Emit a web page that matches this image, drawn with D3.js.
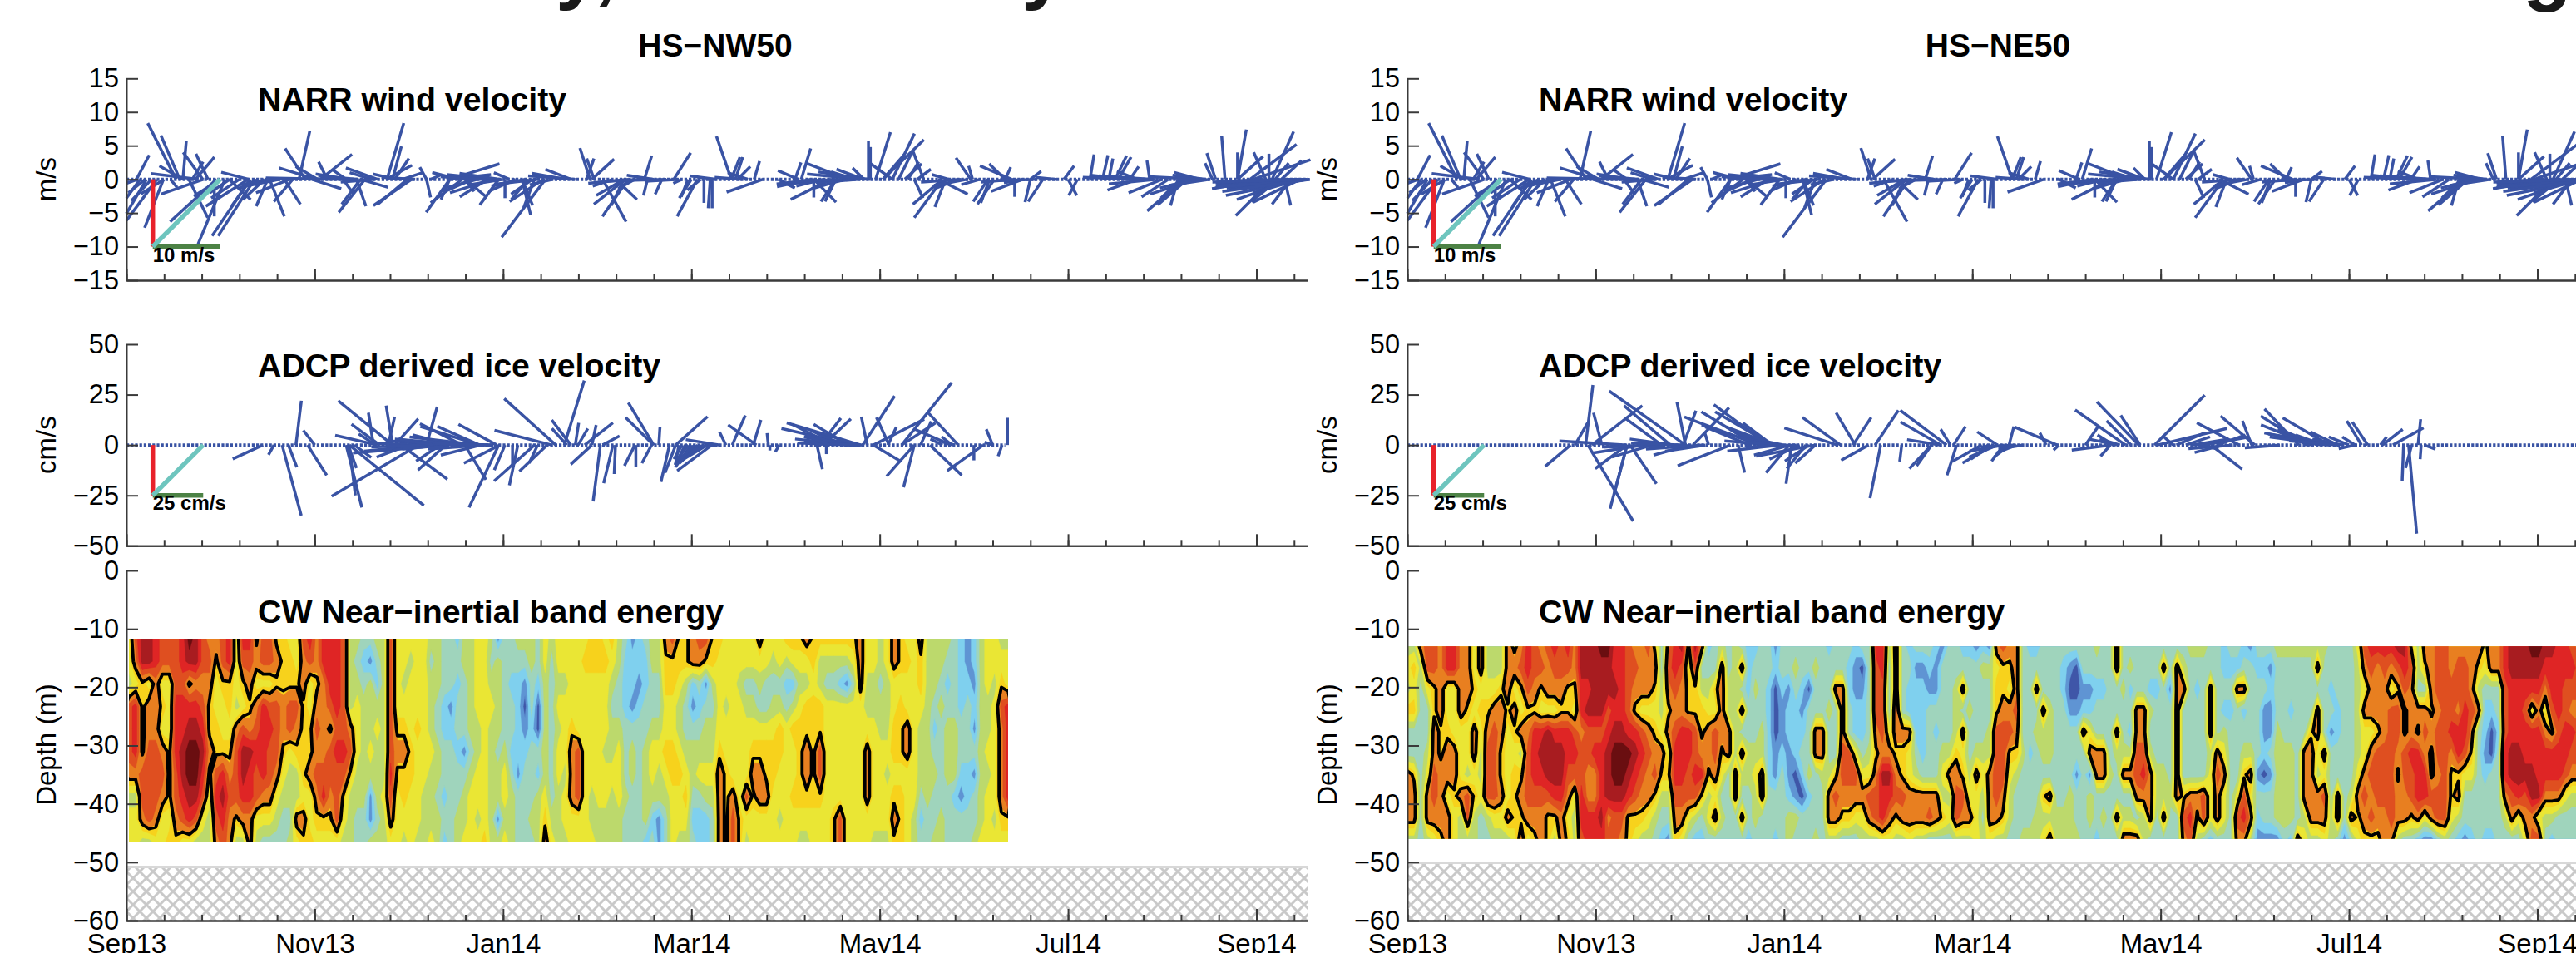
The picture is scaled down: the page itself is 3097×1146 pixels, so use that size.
<!DOCTYPE html>
<html><head><meta charset="utf-8">
<script src="https://cdn.jsdelivr.net/npm/d3@7/dist/d3.min.js"></script>
<style>html,body{margin:0;background:#fff;overflow:hidden}svg{display:block}text{font-family:"Liberation Sans",Arial,sans-serif;fill:#000}</style>
</head><body><svg id="c" width="3097" height="1146"></svg>
<script>
// ---------- labels ----------
const siteTitles=["HS\u2212NW50","HS\u2212NE50"];
const panelTitles=["NARR wind velocity","ADCP derived ice velocity","CW Near\u2212inertial band energy"];
const yLabels=["m/s","cm/s","Depth (m)"];
const windTicks=[15,10,5,0,-5,-10,-15];
const iceTicks=[50,25,0,-25,-50];
const depthTicks=[0,-10,-20,-30,-40,-50,-60];
const dateLabels=["Sep13","Nov13","Jan14","Mar14","May14","Jul14","Sep14"];
const headlineFragments=["y,","y","g"];
const lastDay=376.3;
const seabedDepth=[-50.8,-50.1];
const nwEnergyDays=[0.8,280.9], neEnergyDays=[0,373.2];
const nwEnergyDepth=[-11.7,-46.5], neEnergyDepth=[-13,-46];
const iceZeroEnd=[280,376];
const windRef=10, iceRef=25, refDay=8.4;

// ---------- sticks: [day since 1 Sep 2013, u, v] ----------
const windSticks=[[3.2,1.9,3.6],[15.8,-4.2,8.35],[17,-2.8,6.5],[18,.5,5.7],[24.3,-2.9,4],[26,-1.8,3.8],[22,2.8,3.3],[21,1.6,2.6],[18,-3.5,2],[23,-7.1,.85],[39,-4.1,1.05],
[4.3,-2,-2.8],[9.7,-4.5,-6.1],[6.4,-3,-5.1],[3.6,-1.7,-.6],[11.8,-2.8,-7.2],[24.6,-6.3,-2.2],[19.9,2.8,-5.7],[28.7,-6.9,-6.3],[31.4,-4,-9.6],[39.5,-5.7,-8.4],[40.8,-5.4,-8.4],[28,0,-5.5],[38.8,-6.3,-4],[32.7,3.2,-3],[39.5,-2.8,-4],[45,-1.7,-4],[45.6,2.2,-5.5],[53,-2.8,-3.3],[50.3,2.4,-3.7],
[57,-3,4.6],[55,1.6,7.2],[60.4,-5.5,1.7],[61,-3.3,1.9],[64,-1.3,2.6],[61.8,4.7,3.7],[59,4.4,-1.4],[68,-11,.2],[80,-4.7,1.7],[76,-3.9,-4.9],[74.6,-2.8,-3.7],[69,1.6,-2.2],[73.3,1.4,-4],[74.6,4.1,-1.2],[90.9,-5.7,-3.9],[89.5,-4.4,-3.7],[83,2.5,8.35],[84.8,1.3,4.9],[85.5,2.1,3.1],[82.8,3.8,2.1],
[95.6,-1,1.8],[95.6,.6,-2.7],[97,1.6,.7],[103,-3.5,-4.9],[107,-4.7,-3.5],[103,-1.3,-3],[103,7.4,2.3],[102,6.6,.7],[117,-6.9,.7],[116.6,-6.3,-2],[115,-4.1,-2.6],[118.6,-2.8,-3.8],[108,1.3,-1.8],[108,3.2,-2.7],[120.6,0,-2.8],[133.5,-6.5,-8.6],[132.8,-5,-3.3],[129.4,-3.2,-2.2],[126,1.3,-5.3],[126,1.6,-3.9],[141.6,-3.8,1.5],[147.7,-1.5,4.65],[149,-1.1,3.1],[146.6,1.1,3.1],[148.3,3.3,3],[165,1.1,3.5],[159,-4.7,-3.7],[158.5,-4.1,-2.4],[151.7,3.5,-6.3],[159.8,-3.8,-5.5],[158.5,-1.9,-3.9],[155.8,3.2,-3],[166,-.6,-2.4],[170.6,-1,-2.2],
[174.4,2.5,3.95],[181.9,-3,-5.5],[186.6,0,-4.3],[186,-.3,-4.3],[184,0,-3.5],[178.9,-1,-2.6],[177,-1.3,-.6],[192.7,-2.2,6.4],[194,1.1,3.3],[192.7,1.3,3.3],[194.7,1.9,1.9],[202.8,-5.4,-1.9],[200,.8,2.7],[214,-3,1.3],[207.6,2.5,-1.3],[215,1.4,4.6],[213,.9,2.5],[230,-6.3,2.4],[235,-4.1,1.5],[232,-3.5,1.1],[224.5,-6,-3],[226,-6.3,-.6],[219,0,-2.7],[226,-2.2,-3.3],[219,3.3,-3.4],[226,-1.6,-3.3],[235,-1.7,1.7],[236.4,0,5.7],[237,0,4.8],[238.7,2.2,7],[244,3.3,6.8],[241,6.1,5.9],[241,3.2,3.7],[248,2.5,2.3],[254,-1.6,4.2],[244,-3.2,2.3],[251,1.3,-2.8],[260,-4.2,-5.7],[260,-4.4,-3.7],[261,-1.6,-4.1],[258.6,4.4,-2.2],[269,-2.2,3.2],[269.6,-.6,2],[282,-4.7,2],[280,-2.4,2.3],[280,.8,1.8],[276.5,-2.5,-3.7],[274.5,-2.2,-3.3],[275,-1.3,-3.5],[285.6,-4.7,-1.8],[283,0,-2.6],[288,-.8,-3.4],[292,-2.2,-3.3],[288,1.6,1.2],[303,-1.3,-2.4],[300,1.3,-2.4],[298.7,1.5,2],[307,.6,3.7],[311,.8,3.6],[313,.6,3.1],[315,1.7,3.5],[316,1.9,3.3],[319.7,1.3,1.9],[326,-.4,2.8],[322,-4.4,-1.6],[330,-5,-2],[337,-5.5,-4.7],[338,-4.4,-3.8],[335,-1.1,-3.9],[341,-6.9,-2.2],[342,-3.8,1],[347,-1.3,3.9],[346,-1.1,2.4],[350,-.5,6.5],[354,1.3,7.4],[354,0,4],[354,3.8,3.4],[363,-1.8,4],[364,0,3.8],[365,3.2,7.1],[358,6.9,5.2],[359,8.5,2.9],[376,-12,-2.4],[375,-11,-1.6],[376,-12,-.8],[365,-5.4,-5.4],[372,-8.5,-3],[371,-2.8,-3.7],[369,.9,-3.9],[375,-8.8,-1.8],[374,-7,-2],
[6,-2.5,-2],[8,-3,-3.2],[12,-3.5,-2.2],[14,1,-1.2],[30,-4,-2.5],[33,-3,-2],[36,-4.2,-2.8],[42,-3,-1.5],[44,-3.2,-3],[70,-2,1.4],[78,-3.2,1],[86,-3.5,.8],[88,3,1],[106,-4,1],[110,-3.5,-1.6],[112,-4.6,-1.2],[122,-2.3,1],[128,-2.5,-3],[130,-1.6,-4.2],[136,-3.5,-.8],[155,-3,-1],[162,-2.5,-1.4],[168,-4,.6],[180,-1.8,-2.8],[183,-2,-1.6],[188,-4,.5],[196,-4,.3],[198,-3,1],[222,-4,-1],[229,-5,-1.4],[233,-6,-.5],[246,2,4],[249,1.6,2.6],[252,2,1.5],[262,-2.5,.7],[265,-3.5,-1.4],[272,-2.8,-.8],[286,-3,-.5],[296,-3,.3],[318,-5,.5],[320,-6,.6],[322,-3,1.2],[325,-6.5,.2],[332,-4,-2.6],[336,-3,-2.8],[340,-5,-1.3],[344,-5,.6],[361,-4,-1.2],[366,2,2.4],[368,3,2.8],[370,-9,-1],[372,-10,-1.3],[373,-9,-.4],[376,-10,-.2],[374,-7,-3.4],[367,-4,-3.3],
[47,-5,-.8],[49,-6,-1.2],[52,-5,-2],[71,-5,.8],[74,-6,.5],[79,-5,-.4],[92,-5,.3],[113,-6,.4],[119,-6,.9],[120,-5,-.8],[124,-4,-1.8],[127,-5,-1],[131,-6,-.7],[140,-5,.9],[143,-7,.5],[160,-6,-.6],[164,-5,-.3],[172,-7,-.2],[176,-5,-.3],[218,-5,-1.1],[220,-6,-.7],[228,-7,-.3],[234,-8,.8],[235.5,-7,1.1],[237,-6,.6],[266,-6,-.4],[268,-5,-.9],[283,-5,-.4],[290,-6,-.2],[327,-8,.5],[324,-9,.3],[328,-7,-.7],[343,-8,.4],[345,-6,-.9],[360,-6,-.9],[362,-7,-.5],[363,-8,-1.4],[371,-10,-.4],[374,-12,-1],[377,-14,-1.2],[377,-13,-1.8],[376,-14,-.4]];

const iceNW=[[43.5,-15,-6.9],[47,-2.7,-4.8],[51.6,4.2,-11],[49.6,9.5,-35],[54,2.7,22],[60,-5.7,7.3],[57.7,9.5,-15],[84.8,-27,22],[93,-43,-25.4],[71,3,-25],[70,7.8,-31],[70.6,4.2,-11.4],[71,37,-30],[72.6,8.4,-6.2],[78.7,-2.5,16],[80.7,-14,10.3],[84.8,-3.2,19.6],[83.4,3.2,14],[80,-21,4.8],[79.4,-8.4,5.5],[85.5,11.6,13],[95.6,5.3,19],[107,-21,10.6],[112.5,-29.4,9.2],[112.5,-21,9.3],[112.5,-34.7,4],[118,-19,10.3],[87.5,23,-17],[118.6,-14.7,-31],[101.7,-13.7,-12.4],[107.8,10.5,-17.2],[101.7,-46,-4],[119,-17.9,-9],[120.6,-5.3,-12.4],[130,-20,-17.9],[124.7,-4.2,-20],[123,0,-11],[134,-13.7,-13],[131,-4.2,-9],[136.8,-25.6,23],[135.5,-28.4,7.3],[139.5,9.9,32],[141.6,-9.5,12.4],[140.3,-7.4,8.2],[143,1.7,11],[143.9,4.8,8.2],[148.3,-10.5,-9.6],[148.3,2.1,9.9],[146,14,11],[151,-3.6,-28],[155,-4.6,-19],[155.8,-.6,-14.4],[162,-5.2,-10.3],[162.3,0,-11],[167.3,-4.8,-9],[168,-12.6,21],[168,-14,13.7],[169.6,.6,9],[151.7,8.4,4.5],[173,-4.2,-18.3],
[175,-5.3,-13.7],[175,15.8,14.1],[176,-1.7,-9.6],[186.5,-17.2,-12.8],[185,-12.6,-7.6],[189,-16.8,2.7],[191,-3.2,6.5],[200.7,-14,10],[193,6.5,14.7],[199.7,3.8,12.4],[204.5,-.6,5.9],[205,0,-2.7],[208,-2,-3.4],[234,-36.8,11],[231.6,-35.7,8.2],[230,-17.2,10.3],[225,-20,10.3],[221,10.3,13.3],[222,13.7,13],[220,2.7,-12],[223,0,-4.5],[236,-2.9,14],[234.6,15.8,24.3],[243,-6.3,13.7],[247,24.8,31],[238,25.2,12.8],[242.6,4.2,8.9],[247,16.8,11],[238,13.7,-8.2],[251,-13.7,-15.5],[251,-5.3,-21],[265,-14.7,15.8],[262.7,-17.9,7.8],[253,5.3,11.7],[256,15.8,-15],[273,-17.9,-12.8],[270,0,-7.6],[276,-3.2,7.8],[280.7,0,13.5],[279,-2,-5.5],[276,-4,1.4],
[95,-30,-3],[100,-25,2],[104,-20,5],[108,-35,3],[110,-30,1],[113,-20,-5],[116,-25,1],[90,-16,-6],[100,-12,-8],[178,-5,-10],[180,-8,-11],[182,-9,-9],[184,-11,-6],[183,-7,-5],[186,-12,-3],[188,-14,-1],[226,-12,5],[228,-15,7],[230,-22,4],[232,-25,2],[233,-18,6],[260,-6,3],[263,-5,4],[264,-8,2],
[92,-22,1],[96,-28,-1],[102,-22,-2],[105,-30,2],[114,-28,-2],[117,-30,.8],[98,-18,3],[177,-4,-7],[179,-6,-8],[181,-7,-7],[185,-9,-4],[229,-20,5],[231,-28,3],[233,-30,1],[235,-24,.6],[224,-10,4]];

const iceNE=[[52,-12.6,-10.6],[56.8,3.6,29.8],[53.4,6.3,11],[62,-4.2,16],[57.5,22.5,-37.8],[58.8,25,19.5],[88.6,-37.8,26.8],[83.8,-23,19.5],[81,-17.9,13.2],[70,-8.4,-31.6],[70,-6.3,-24],[71,13,-19.2],[70,-15.8,-11.7],[70,-33.6,2],[88.6,-4.2,21.3],[87.9,6.3,17],[112,-37,13.9],[91,17.9,18.5],[111,-27,16.5],[115,-27,20],[116.3,-28.4,16.5],[116.3,-14.7,11],[103,-26.3,-10.3],[96,-2,6.2],[105.4,3.2,-13.7],[121.7,-11.6,-13.7],[122.4,-2.7,-19.2],[138,-18.9,13.7],[137,-26.3,8.5],[142.7,-9.5,16],[142,9,13.7],[147,-13.7,-7.6],[150.8,-5.3,-26.4],[149,11.6,17.2],[171.8,-23,17.2],[170,-20,11.4],[173,-4.8,7.8],[167,-11,-11.7],[167,-7.4,-10.3],[157.5,-1,-8.2],[174,6,9.2],[175,-4.8,-15],[188,-10,6.5],[183,-14.7,-8.2],[187,-15.8,-8.9],[170,-16.8,2.7],[127,-9.5,-11.7],[130,-29.4,-5.5],
[191.7,2.4,9.2],[203.5,-3.1,6],[207,-21,8.9],[207.6,-2.7,-2.5],[224,-19.2,-2.5],[224,-4.9,-5.5],[228.8,-25,17.4],[233,-20.7,21.4],[233.5,-9.7,14.7],[230.6,-12.2,12],[216,6.4,9.2],[238,25,24.7],[244,-5.5,4.8],[239,34.4,8.2],[265,-21,11],[270,-17,14.4],[269,-4.6,12],[263,-22,-1.8],[260,-14.3,-3.7],[256,15.5,-12],[284,-17,17.9],[286.6,-22.9,14.4],[293.6,-22.9,13.5],[296,-33.8,5.5],[296.5,-13.7,6.5],[304,-7.3,12],[306,-7.7,11.4],[302,-6.4,4],[302,-8.2,-1.8],[310.7,10,7.8],[310,3.1,4],[314,15.2,8.5],[322,1.3,12.8],[317.4,-.7,-18],[319,4,-44],[320,-3.1,-11.4],[323,-.5,-7],[324,5.5,-2],[278,-17.4,-1.4],
[75,-25,-4],[78,-20,-6],[80,-28,-1],[85,-22,3],[90,-18,-5],[95,-20,-3],[115,-18,7],[118,-20,4],[120,-15,3],[122,-18,-5],[125,-15,-7],[128,-12,-8],[130,-10,-9],[118,-25,-3],[190,-6,-8],[192,-8,-6],[194,-10,-4],[196,-12,-2],[185,-6,-5],[225,-8,5],[227,-10,3],[245,14,6],[248,12,4],[252,10,-2],[287,-15,8],[290,-17,7],[292,-14,5],[298,-15,3],[300,-10,4],
[82,-30,-1],[88,-26,1],[94,-28,-2],[109,-22,9],[113,-30,10],[117,-24,9],[119,-28,2],[124,-25,-1],[186,-10,-7],[188,-14,-6],[190,-17,-3],[193,-16,-1],[226,-14,3],[250,18,3],[254,22,4],[258,14,5],[288,-25,10],[291,-28,6],[294,-30,4],[297,-25,2]];

// ---------- near-inertial energy: one string per time column, shallow to deep,
// levels 0 (lowest) to b (highest), hexadecimal digits ----------
const nwEnergy=["5548887455","8759997455","aa66668874","aa57788884","9977788875","8856578755","8855566656","8889998876","99899aa985","ba69abba95","aa79abba84","88789a9854","7876676544","7655668987","8865569a98","9966567877","5554788864","98658aa974","98767a9977","6757898854","8859999753","8858988753","6768887543","6667765433","5668854434","5568764475","8776666576","9855667556","7767878765","9977778965","9998688765","9999898885","8888898654","4444786444","4345554433","3234444433","3144454114","4324544434","4444444544","8888889875","5555676555","5545676654","5455566555","5555655554","5555555444","4344454445","4443344344","3332233232","3331233333","2323323344","4433313445","4444434555","5555445545","5555555556","4345444444","1444434414","3333345545","3323323444","4322221333","4310123333","4433233343","3320032444","5544444567","4333333345","5545455444","5545554554","5555677755","5555588855","5655555555","6655555445","6655555544","5655545544","6543445444","4433455544","3222333433","1221344333","2212333333","3223344442","4433455423","4433454411","7665565433","8665566555","6654456554","6643345654","7721344323","8732345322","8613445422","6643445433","6555567777","5554556666","5555555788","5545555566","5534555854","5534567655","7543567755","5533566755","5434566555","5534665545","6423555555","6524655655","6545666654","7546677654","6656666655","6446688655","6435555555","6435555566","6425555588","6415555555","6535555555","7775555555","5544577755","5544555554","4434455554","5544454554","7755665676","6656665666","5655775555","5555555544","7665444323","4444444433","4443234334","4434333344","4323444333","3333444233","2222332133","1123332233","2212131334","4444444445","5554454555","5545555545","4568777765","4559999965"];
const neEnergy=["4546337774","4656336774","7433333333","8853345774","8866778875","7777667776","9955677577","9955577655","7777555744","7776554884","5565775644","7756544533","4456788843","4457888854","4467766754","7776555574","6757656665","7865746767","9986788875","8876999876","78659a9877","8775aaa866","98759aa964","88769aa977","9866998756","7765898544","aa99788998","aa9a887799","aaaa897799","baaa8999a9","baa89aaa78","99a9abba88","9999abba87","88889ba966","78769a9865","7775898764","8775787754","6765678643","3344576432","7876756431","9987899876","a877999875","6566998853","a866889842","7346679632","2345776453","3365887573","4777765343","3344773333","4444447733","3737374373","2223344332","2343345443","3333447733","3322222333","1200011332","3321123333","3312211244","3432220143","3321232033","3303334233","3433773334","3333774333","2334334774","3373336874","3377788763","3223388763","2112258753","3012235754","3333345874","9888767884","998887a995","433357a975","7778767864","3333766874","2322755775","3122234774","3122223774","3213333783","2113233773","1333345463","3333347453","3344467884","2373756874","2334334574","1333347555","2433345434","1433447775","7566888874","8667888764","7657865443","7778764333","3333343334","2333323334","2373433344","3337443645","3334443747","3333333344","3223333344","3101333444","3001331334","3312733333","3312571443","4323377332","3323377343","3333334333","7733743373","3343347347","3423247347","3337788737","3337789744","3324347773","3323334433","3733334473","3313333433","3777777733","3473333687","4333333798","4323333764","4333333883","3377745552","3333378773","2232457553","3232333333","3273333587","2372346897","1333347574","3233331321","3231120331","3121131331","4333444441","4333344443","4332344442","4333333337","4333377745","4333677774","4737754774","4333375875","3323133344","3332233773","3333333331","3333333473","5444445765","8757557876","9877578786","9777688876","9877788877","9758888887","a868876774","a986688773","6877798863","4437699972","7637879951","7776766871","8887887883","8888888884","7788976653","7887996742","7889985331","7778765332","7647333333","6532212332","7732003332","7733233333","9988899743","aa999aa873","aa999aa953","aa9899a875","ba9599aa78","ba97999a58","a975799743","a998699742","9999899733","9988998533","8987987433","7887887433"];
const energyColors=["#3F56A8","#5F94D3","#7FD0EE","#9FD4BC","#BCD96C","#EAE634","#F7D21C","#E87F20","#DF4F20","#DF2525","#A81C20","#6A0E10"];
const contourLevel=6.3;

const BLUE="#3953A4",AXIS="#3a3a3a";
const svg=d3.select("#c");
const defs=svg.append("defs");
const pat=defs.append("pattern").attr("id","hatch").attr("patternUnits","userSpaceOnUse").attr("width",16).attr("height",16);
pat.append("rect").attr("width",16).attr("height",16).attr("fill","#fff");
pat.append("path").attr("d","M-2,-2L18,18M-2,18L18,-2").attr("stroke","#c9c9c9").attr("stroke-width",3);

const ySpec=[{range:[94.3,337],dom:[15,-15],ticks:windTicks},{range:[414,656.3],dom:[50,-50],ticks:iceTicks},{range:[686,1107],dom:[0,-60],ticks:depthTicks}];
const minorDays=d3.range(0,lastDay,12), majorDays=d3.range(0,lastDay,60);
const fmtTick=v=>String(v).replace("-","\u2212");

function drawAxes(g,x,y,spec,labelText,withDates){
  const ax=g.append("g").attr("transform",`translate(${x.range()[0]},0)`)
    .call(d3.axisLeft(y).tickValues(spec.ticks).tickFormat(fmtTick).tickSize(-14).tickSizeOuter(0).tickPadding(9));
  const bottom=y.range()[1];
  const minor=g.append("g").attr("transform",`translate(0,${bottom})`)
    .call(d3.axisTop(x).tickValues(minorDays).tickFormat("").tickSize(7).tickSizeOuter(0));
  const major=g.append("g").attr("transform",`translate(0,${bottom})`)
    .call(d3.axisTop(x).tickValues(majorDays).tickFormat("").tickSize(14).tickSizeOuter(0));
  [ax,minor,major].forEach(a=>{a.selectAll("path,line").attr("stroke",AXIS).attr("stroke-width",2);a.selectAll("text").attr("font-size",32.5).attr("font-family",null);});
  if(withDates){
    const dates=g.append("g").attr("transform",`translate(0,${bottom})`)
      .call(d3.axisBottom(x).tickValues(majorDays).tickFormat((d,i)=>dateLabels[i]).tickSize(0).tickPadding(0));
    dates.select("path").remove();
    dates.selectAll("text").attr("font-size",33).attr("font-family",null).attr("y",39).attr("dy",0);
  }
  g.append("text").attr("transform",`translate(${x.range()[0]-85},${(y.range()[0]+y.range()[1])/2+(withDates?-1:0)}) rotate(-90)`)
   .attr("text-anchor","middle").attr("font-size",33).text(labelText);
}

function drawSticks(g,x,y,sticks,ref,refLabel,refBelow,zeroEnd){
  g.append("line").attr("x1",x(0)).attr("x2",x(zeroEnd)).attr("y1",y(0)).attr("y2",y(0))
    .attr("stroke",BLUE).attr("stroke-width",4).attr("stroke-dasharray","3.2 2");
  const ux=d=>x(d[0])+(y(0)-y(d[1]));
  g.append("g").selectAll("line").data(sticks).join("line")
    .attr("x1",d=>x(d[0])).attr("y1",y(0)).attr("x2",ux).attr("y2",d=>y(d[2]))
    .attr("stroke",BLUE).attr("stroke-width",3.5);
  const rx=x(refDay), rw=y(0)-y(ref);
  g.append("line").attr("x1",rx).attr("x2",rx+rw).attr("y1",y(-ref)).attr("y2",y(-ref)).attr("stroke","#4C8245").attr("stroke-width",5.5);
  g.append("line").attr("x1",rx).attr("x2",rx).attr("y1",y(0)).attr("y2",y(-ref)).attr("stroke","#E8222B").attr("stroke-width",5.5);
  g.append("line").attr("x1",rx).attr("x2",rx+rw).attr("y1",y(-ref)).attr("y2",y(0)).attr("stroke","#6EC5BE").attr("stroke-width",5.5);
  g.append("text").attr("x",rx).attr("y",y(-ref)+refBelow).attr("font-size",24).attr("font-weight","bold").text(refLabel);
}

function drawEnergy(g,x,y,cols,days,depth,idx){
  const n=cols.length,m=cols[0].length;
  const values=[];
  for(let j=0;j<m;j++)for(let i=0;i<n;i++)values.push(parseInt(cols[i][j],16));
  const gx=d3.scaleLinear().domain([.5,n-.5]).range([x(days[0]),x(days[1])]);
  const gy=d3.scaleLinear().domain([.5,m-.5]).range([y(depth[0]),y(depth[1])]);
  const proj=d3.geoTransform({point(px,py){this.stream.point(gx(px),gy(py));}});
  const path=d3.geoPath(proj);
  const id="clipE"+idx;
  defs.append("clipPath").attr("id",id).append("rect").attr("x",x(days[0])).attr("y",y(depth[0]))
    .attr("width",x(days[1])-x(days[0])).attr("height",y(depth[1])-y(depth[0]));
  const h=g.append("g").attr("clip-path",`url(#${id})`);
  h.append("rect").attr("x",x(days[0])).attr("y",y(depth[0])).attr("width",x(days[1])-x(days[0])).attr("height",y(depth[1])-y(depth[0])).attr("fill",energyColors[0]);
  const lv=d3.range(.5,11);
  h.selectAll("path.f").data(d3.contours().size([n,m]).thresholds(lv)(values)).join("path").attr("class","f")
    .attr("d",path).attr("fill",(d,i)=>energyColors[i+1]).attr("stroke",(d,i)=>energyColors[i+1]).attr("stroke-width",.5);
  h.selectAll("path.k").data(d3.contours().size([n,m]).thresholds([contourLevel])(values)).join("path").attr("class","k")
    .attr("d",path).attr("fill","none").attr("stroke","#000").attr("stroke-width",3.8).attr("stroke-linejoin","round");
}

const panels=[
 {x0:152,label:siteTitles[0],cx:860,ice:iceNW,zero:iceZeroEnd[0],energy:nwEnergy,days:nwEnergyDays,depth:nwEnergyDepth,bed:seabedDepth[0],tx:310},
 {x0:1692,label:siteTitles[1],cx:2402,ice:iceNE,zero:iceZeroEnd[1],energy:neEnergy,days:neEnergyDays,depth:neEnergyDepth,bed:seabedDepth[1],tx:1850}
];
panels.forEach((p,idx)=>{
  const x=d3.scaleLinear().domain([0,lastDay]).range([p.x0,p.x0+1420]);
  const g=svg.append("g");
  g.append("text").attr("x",p.cx).attr("y",68).attr("text-anchor","middle").attr("font-size",39).attr("font-weight","bold").text(p.label);
  const yW=d3.scaleLinear().domain(ySpec[0].dom).range(ySpec[0].range);
  const yI=d3.scaleLinear().domain(ySpec[1].dom).range(ySpec[1].range);
  const yD=d3.scaleLinear().domain(ySpec[2].dom).range(ySpec[2].range);
  g.append("rect").attr("x",p.x0).attr("width",1420).attr("y",yD(p.bed)).attr("height",yD(-60)-yD(p.bed)).attr("fill","url(#hatch)");
  g.append("line").attr("x1",p.x0).attr("x2",p.x0+1420).attr("y1",yD(p.bed)).attr("y2",yD(p.bed)).attr("stroke","#d8d8d8").attr("stroke-width",3);
  drawEnergy(g,x,yD,p.energy,p.days,p.depth,idx);
  drawSticks(g,x,yW,windSticks,windRef,"10 m/s",18,lastDay);
  drawSticks(g,x,yI,p.ice,iceRef,"25 cm/s",17,p.zero);
  drawAxes(g,x,yW,ySpec[0],yLabels[0],false);
  drawAxes(g,x,yI,ySpec[1],yLabels[1],false);
  drawAxes(g,x,yD,ySpec[2],yLabels[2],true);
  [[132.7,0],[452.7,1],[749.3,2]].forEach(([yy,k])=>g.append("text").attr("x",p.tx).attr("y",yy).attr("font-size",39.3).attr("font-weight","bold").text(panelTitles[k]));
});
// descenders of the cropped headline at the very top of the picture
[[668,-7],[1228,-7],[3033,-5]].forEach((q,i)=>svg.append("text").attr("x",q[0]).attr("y",q[1]).attr("font-size",96).attr("font-weight","bold").style("fill","#1a1a1a").text(headlineFragments[i]));
</script>
</body></html>
